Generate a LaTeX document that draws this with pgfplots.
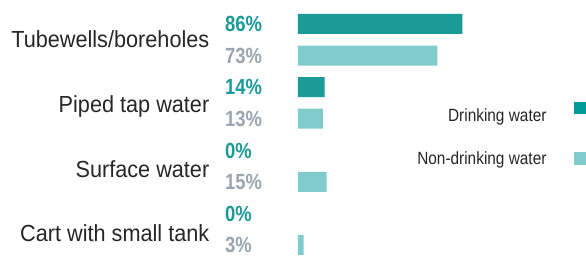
\documentclass[border=0pt]{standalone}
\usepackage{pgfplots}
\pgfplotsset{compat=1.18}
\usepackage{fontspec}
\setmainfont{Liberation Sans}
\newfontfamily\catfont{Liberation Sans}[FakeStretch=0.93]
\newfontfamily\pctfont{Liberation Sans}[FakeStretch=0.84]
\newfontfamily\legfont{Liberation Sans}[FakeStretch=0.87]
\definecolor{drink}{HTML}{1B9A97}
\definecolor{nondrink}{HTML}{80CCCC}
\definecolor{pctgreen}{HTML}{1A9A98}
\definecolor{pctgrey}{HTML}{9AA5AF}
\definecolor{legdark}{HTML}{009A99}
\definecolor{txt}{HTML}{262626}
\tikzset{
  pct/.style={anchor=base west, inner sep=0pt, yshift=-7.8pt,
    font=\pctfont\bfseries\fontsize{21.9}{24}\selectfont},
  cat/.style={anchor=base east, inner sep=0pt, text=txt,
    font=\catfont\fontsize{23.3}{26}\selectfont},
}
\begin{document}
\begin{tikzpicture}[x=1pt,y=1pt]
\useasboundingbox (0,0) rectangle (586,256);
\begin{axis}[
  at={(0,0)}, anchor=south west,
  scale only axis, width=586pt, height=256pt,
  xmin=-156.02, xmax=150.79,
  ymin=-0.760, ymax=7.349, y dir=reverse,
  hide axis, clip=false,
  xbar, bar width=20pt, bar shift=0pt,
  restrict x to domain=0.5:200,
  legend plot pos=right,
  legend cell align=right,
  legend style={at={(1,0.6016)}, anchor=north east, draw=none, fill=none,
    inner sep=0pt, outer sep=0pt, row sep=28.3pt, column sep=27pt,
    font=\legfont\fontsize{17.7}{20}\selectfont\color{txt},
    nodes={inner sep=0pt}},
]
\addplot[fill=drink, draw=none,
  legend image code/.code={\fill[legdark] (0pt,1.4pt) rectangle (12.5pt,13.9pt);}]
  coordinates {(86,0) (14,2) (0,4) (0,6)};
\addlegendentry{Drinking water}
\addplot[fill=nondrink, draw=none,
  legend image code/.code={\fill[nondrink] (0pt,-6.6pt) rectangle (12.5pt,6.1pt);}]
  coordinates {(73,1) (13,3) (15,5) (3,7)};
\addlegendentry{Non-drinking water}
% percentage labels
\node[pct, text=pctgreen] at (axis cs:-38.22,0) {86\%};
\node[pct, text=pctgrey]  at (axis cs:-38.22,1) {73\%};
\node[pct, text=pctgreen] at (axis cs:-38.22,2) {14\%};
\node[pct, text=pctgrey]  at (axis cs:-38.22,3) {13\%};
\node[pct, text=pctgreen] at (axis cs:-38.22,4) {0\%};
\node[pct, text=pctgrey]  at (axis cs:-38.22,5) {15\%};
\node[pct, text=pctgreen] at (axis cs:-38.22,6) {0\%};
\node[pct, text=pctgrey]  at (axis cs:-38.22,7) {3\%};
% category labels
\node[cat] at (axis cs:-46.34,0.729) {Tubewells/boreholes};
\node[cat] at (axis cs:-46.34,2.819) {Piped tap water};
\node[cat] at (axis cs:-46.34,4.878) {Surface water};
\node[cat] at (axis cs:-46.34,6.905) {Cart with small tank};
\end{axis}
\end{tikzpicture}
\end{document}
